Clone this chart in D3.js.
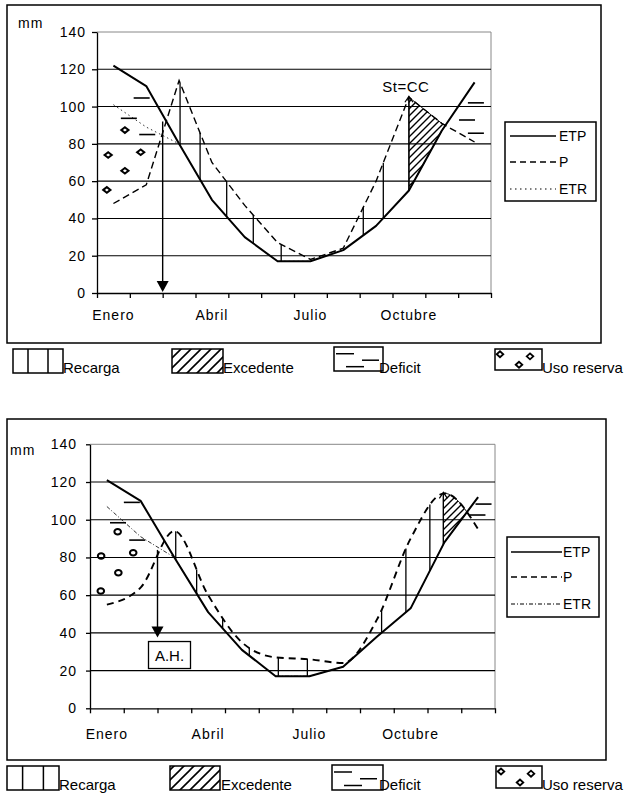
<!DOCTYPE html>
<html lang="es">
<head>
<meta charset="utf-8">
<title>Balance hidrico</title>
<script src="https://cdn.jsdelivr.net/npm/d3@7"></script>
<style>
  body { margin: 0; background: #fff; }
  svg { font-family: "Liberation Sans", Arial, sans-serif; }
  .num { font-size: 14px; letter-spacing: 1px; }
  .leg { font-size: 14px; }
  .key { font-size: 15px; }
</style>
</head>
<body>
<svg id="chart" width="624" height="794"></svg>
<script>
// etiquetas comunes
var mesLabels = ["Enero", "", "", "Abril", "", "", "Julio", "", "", "Octubre", "", ""];
var yTicks = [0, 20, 40, 60, 80, 100, 120, 140];
var serieNames = ["ETP", "P", "ETR"];
var keyNames = ["Recarga", "Excedente", "Deficit", "Uso reserva"];

// grafico de arriba (mm por mes)
var etpA = [122, 111, 80, 50, 30, 17, 17, 23, 36, 55, 87, 113];
var pA   = [48, 58, 114, 70, 47, 27, 18, 24, 60, 105, 91, 81];
var etrA = [101, 89, 80, 50, 30, 17, 17, 23, 36, 55, 87, 113];
var recargaA = [2.53, 3.14, 3.95, 4.76, 5.61, 8.11, 8.72, 9.5];   // posicion en meses
var excA = [9.5, 12];
var deficitA = [[1.36, 104.6], [0.97, 93.7], [1.53, 85], [11.54, 102], [11.27, 92.8], [11.54, 85.7]];
var reservaA = [[0.85, 87.4], [0.34, 74], [1.33, 75.5], [0.85, 65.6], [0.30, 55.3]];
var flechaA = [2, 92, 0];
var caretA = 9.5;

// grafico de abajo
var etpB = [121, 110, 80, 51, 31, 17, 17, 22, 38, 53, 88, 112];
var pB   = [55, 64, 94, 60, 35, 27, 26, 24, 47, 90, 114, 95];
var etrB = [107, 91, 80, 51, 31, 17, 17, 22, 38, 53, 88, 112];
var recargaB = [2.54, 3.16, 3.93, 4.72, 5.58, 6.44, 8.64, 9.36, 10.07, 10.47];
var excB = [10.47, 12];
var deficitB = [[1.24, 109.2], [0.83, 98.4], [1.40, 89.2], [11.66, 108.3], [11.48, 102.5]];
var reservaB = [[0.33, 80.8], [0.82, 93.6], [0.84, 71.9], [1.28, 82.5], [0.32, 62.2]];
var flechaB = [2, 84, 37];
var caretB = 10.47;

var svg = d3.select("#chart");
var defs = svg.append("defs");

function hatch(id, s, w) {
  defs.append("pattern")
      .attr("id", id)
      .attr("patternUnits", "userSpaceOnUse")
      .attr("width", s).attr("height", s)
    .append("path")
      .attr("d", "M" + (-s / 4) + "," + (s / 4) + "l" + (s / 2) + "," + (-s / 2) +
                 "M0," + s + "l" + s + "," + (-s) +
                 "M" + (3 * s / 4) + "," + (5 * s / 4) + "l" + (s / 2) + "," + (-s / 2))
      .attr("stroke", "#000")
      .attr("stroke-width", w);
}
hatch("hatchChart", 7, 1.4);
hatch("hatchKey", 10, 1.6);

// y de un path en una x dada (el path va de izquierda a derecha)
function yOnPath(node, px) {
  var lo = 0, hi = node.getTotalLength();
  for (var k = 0; k < 30; k++) {
    var mid = (lo + hi) / 2;
    if (node.getPointAtLength(mid).x < px) lo = mid; else hi = mid;
  }
  return node.getPointAtLength((lo + hi) / 2).y;
}

function diamond(cx, cy, w, h) {
  return "M" + (cx - w) + "," + cy + "L" + cx + "," + (cy - h) + "L" + (cx + w) + "," + cy + "L" + cx + "," + (cy + h) + "Z";
}

function drawChart(c) {
  var g = svg.append("g");
  var x = d3.scaleLinear().domain([0, 12]).range([c.x0, c.x1]);
  var y = d3.scaleLinear().domain([0, 140]).range([c.y0, c.y1]);

  g.append("rect")
      .attr("x", c.box[0]).attr("y", c.box[1])
      .attr("width", c.box[2] - c.box[0]).attr("height", c.box[3] - c.box[1])
      .attr("fill", "none").attr("stroke", "#000").attr("stroke-width", 1.5);

  // borde del area de trazado
  g.append("path")
      .attr("d", "M" + c.x0 + "," + y(140) + "H" + c.x1 + "V" + y(0))
      .attr("fill", "none").attr("stroke", "#888");

  g.selectAll(".grid")
      .data(yTicks.filter(function(v) { return v > 0 && v < 140; }))
    .enter().append("line")
      .attr("x1", c.x0).attr("x2", c.x1)
      .attr("y1", function(d) { return y(d); })
      .attr("y2", function(d) { return y(d); })
      .attr("stroke", "#000").attr("stroke-width", 1.1);

  var ya = g.append("g")
      .attr("transform", "translate(" + c.x0 + ",0)")
      .call(d3.axisLeft(y).tickValues(yTicks).tickSize(c.tickSize).tickSizeOuter(0).tickPadding(c.tickPad));
  ya.selectAll("path, line").attr("stroke", "#000").attr("stroke-width", 1.3);
  ya.selectAll("text").attr("class", "num").attr("fill", "#000").attr("font-family", null).attr("font-size", null);

  var xa = g.append("g")
      .attr("transform", "translate(0," + c.y0 + ")")
      .call(d3.axisBottom(x).tickValues(d3.range(13)).tickSize(5).tickSizeOuter(0).tickFormat(""));
  xa.selectAll("path, line").attr("stroke", "#000").attr("stroke-width", 1.3);

  g.selectAll(".mes")
      .data(mesLabels)
    .enter().append("text")
      .attr("class", "num")
      .attr("x", function(d, i) { return x(i + 0.5); })
      .attr("y", c.labelY)
      .attr("text-anchor", "middle")
      .text(function(d) { return d; });

  g.append("text").attr("class", "num")
      .attr("x", c.mm[0]).attr("y", c.mm[1]).text("mm");

  var back = g.append("g");

  var line = d3.line()
      .x(function(d, i) { return x(i + 0.5); })
      .y(function(d) { return y(d); });

  g.append("path")
      .attr("d", line(c.etr))
      .attr("fill", "none").attr("stroke", "#333").attr("stroke-width", 1)
      .attr("stroke-dasharray", c.etrDash);

  var p = g.append("path")
      .attr("d", line.curve(c.pCurve)(c.p))
      .attr("fill", "none").attr("stroke", "#000").attr("stroke-width", c.pWidth)
      .attr("stroke-dasharray", c.pDash);
  line.curve(d3.curveLinear);

  var etp = g.append("path")
      .attr("d", line(c.etp))
      .attr("fill", "none").attr("stroke", "#000").attr("stroke-width", 2)
      .attr("stroke-linejoin", "round");

  var pNode = p.node(), eNode = etp.node();

  // excedente: entre P y ETP
  var pts = [];
  for (var px = x(c.exc[0]); px <= x(c.exc[1]); px += 1) {
    var yp = yOnPath(pNode, px), ye = yOnPath(eNode, px);
    if (yp < ye) pts.push([px, yp, ye]);
  }
  back.append("path")
      .attr("d", d3.area().x(function(d) { return d[0]; })
                  .y0(function(d) { return d[2]; })
                  .y1(function(d) { return d[1]; })(pts))
      .attr("fill", "url(#hatchChart)")
      .attr("stroke", "#000").attr("stroke-width", 1);

  // recarga
  back.selectAll(".rec")
      .data(c.recarga)
    .enter().append("line")
      .attr("x1", function(d) { return x(d); })
      .attr("x2", function(d) { return x(d); })
      .attr("y1", function(d) { return yOnPath(pNode, x(d)); })
      .attr("y2", function(d) { return yOnPath(eNode, x(d)); })
      .attr("stroke", "#000").attr("stroke-width", 1.3);

  // deficit
  g.selectAll(".def")
      .data(c.deficit)
    .enter().append("line")
      .attr("x1", function(d) { return x(d[0]) - 8; })
      .attr("x2", function(d) { return x(d[0]) + 8; })
      .attr("y1", function(d) { return y(d[1]); })
      .attr("y2", function(d) { return y(d[1]); })
      .attr("stroke", "#000").attr("stroke-width", 1.6);

  // uso de reserva
  if (c.round) {
    g.selectAll(".res")
        .data(c.reserva)
      .enter().append("ellipse")
        .attr("cx", function(d) { return x(d[0]); })
        .attr("cy", function(d) { return y(d[1]); })
        .attr("rx", 3.3).attr("ry", 2.8)
        .attr("fill", "none").attr("stroke", "#000").attr("stroke-width", 2);
  } else {
    g.selectAll(".res")
        .data(c.reserva)
      .enter().append("path")
        .attr("d", function(d) { return diamond(x(d[0]), y(d[1]), 3.6, 2.8); })
        .attr("fill", "none").attr("stroke", "#000").attr("stroke-width", 2);
  }

  // flecha
  var fx = x(c.flecha[0]), fy0 = y(c.flecha[1]), fy1 = y(c.flecha[2]);
  g.append("line")
      .attr("x1", fx).attr("x2", fx).attr("y1", fy0).attr("y2", fy1 - 10)
      .attr("stroke", "#000").attr("stroke-width", 1.4);
  g.append("path")
      .attr("d", "M" + (fx - 6) + "," + (fy1 - 12) + "L" + (fx + 6) + "," + (fy1 - 12) + "L" + fx + "," + (fy1 - 1) + "Z")
      .attr("fill", "#000");

  // marca de St=CC
  var cx = x(c.caret), cy = yOnPath(pNode, cx);
  g.append("path")
      .attr("d", "M" + (cx - 4) + "," + (cy + 5) + "L" + cx + "," + (cy - 1) + "L" + (cx + 4) + "," + (cy + 5))
      .attr("fill", "none").attr("stroke", "#000").attr("stroke-width", 1.2);

  if (c.st) {
    g.append("text").attr("class", "key")
        .attr("x", cx - 3).attr("y", cy - 5)
        .attr("text-anchor", "middle")
        .attr("letter-spacing", 0.5)
        .text(c.st);
  }
  if (c.ah) {
    g.append("rect")
        .attr("x", fx - 9).attr("y", fy1 + 3)
        .attr("width", 42).attr("height", 27)
        .attr("fill", "#fff").attr("stroke", "#000").attr("stroke-width", 1.3);
    g.append("text").attr("class", "key")
        .attr("x", fx + 12).attr("y", fy1 + 22)
        .attr("text-anchor", "middle")
        .text(c.ah);
  }

  // leyenda
  var L = c.leg;
  g.append("rect")
      .attr("x", L[0]).attr("y", L[1])
      .attr("width", L[2] - L[0]).attr("height", L[3] - L[1])
      .attr("fill", "#fff").attr("stroke", "#000").attr("stroke-width", 1.5);
  var styles = [
    { w: 1.3, dash: null },
    { w: 1.3, dash: "6,4" },
    { w: 1.2, dash: c.etrLegDash }
  ];
  serieNames.forEach(function(name, i) {
    g.append("line")
        .attr("x1", c.legX[0]).attr("x2", c.legX[1])
        .attr("y1", c.legY[i]).attr("y2", c.legY[i])
        .attr("stroke", "#000").attr("stroke-width", styles[i].w)
        .attr("stroke-dasharray", styles[i].dash);
    g.append("text").attr("class", "leg")
        .attr("x", c.legX[2]).attr("y", c.legY[i] + 5)
        .text(name);
  });

  // claves de abajo
  var K = c.keys;
  var k = svg.append("g");
  keyNames.forEach(function(name, i) {
    var b = K[i];
    k.append("text").attr("class", "key")
        .attr("x", b[4]).attr("y", K.base)
        .text(name);
  });
  keyNames.forEach(function(name, i) {
    var b = K[i];
    var bx = b[0], by = b[1], bw = b[2] - b[0], bh = b[3] - b[1];
    k.append("rect")
        .attr("x", bx).attr("y", by).attr("width", bw).attr("height", bh)
        .attr("fill", i === 1 ? "url(#hatchKey)" : "none")
        .attr("stroke", "#000").attr("stroke-width", 1.5);
    if (i === 0) {
      [0.3, 0.7].forEach(function(f) {
        k.append("line").attr("x1", bx + bw * f).attr("x2", bx + bw * f)
            .attr("y1", by).attr("y2", by + bh)
            .attr("stroke", "#000").attr("stroke-width", 1.5);
      });
    }
    if (i === 2) {
      [[2, 20, 0.28], [28, 45, 0.55], [12, 30, 0.82]].forEach(function(s) {
        k.append("line").attr("x1", bx + s[0]).attr("x2", bx + s[1])
            .attr("y1", by + bh * s[2]).attr("y2", by + bh * s[2])
            .attr("stroke", "#000").attr("stroke-width", 1.5);
      });
    }
    if (i === 3) {
      [[5, 0.25], [35, 0.35], [24, 0.75]].forEach(function(s) {
        k.append("path").attr("d", diamond(bx + s[0], by + bh * s[1], 3.3, 3))
            .attr("fill", "none").attr("stroke", "#000").attr("stroke-width", 1.8);
      });
    }
  });
}

var keysA = [[13, 349, 63, 373, 63], [172, 349, 223, 373, 223], [334, 347, 383, 371, 379], [495, 349, 542, 370, 542]];
keysA.base = 373;
var keysB = [[7, 766, 59, 790, 59], [170, 766, 220, 790, 221], [332, 765, 383, 790, 379], [496, 766, 542, 788, 542]];
keysB.base = 790;

drawChart({
  box: [7, 5, 601, 343], x0: 97, x1: 491, y0: 293, y1: 32,
  tickSize: 5, tickPad: 6, mm: [18, 28], labelY: 320,
  etp: etpA, p: pA, etr: etrA, recarga: recargaA, exc: excA,
  deficit: deficitA, reserva: reservaA, flecha: flechaA, caret: caretA,
  st: "St=CC", ah: null, round: false,
  pCurve: d3.curveLinear, pWidth: 1.4, pDash: "7,4", etrDash: "1.5,3", etrLegDash: "1.5,3.5",
  leg: [505, 122, 596, 201], legY: [136, 162, 189], legX: [510, 556, 559],
  keys: keysA
});

drawChart({
  box: [7, 419, 606, 760], x0: 90, x1: 495, y0: 708.3, y1: 444.3,
  tickSize: 4, tickPad: 9, mm: [10, 455], labelY: 739,
  etp: etpB, p: pB, etr: etrB, recarga: recargaB, exc: excB,
  deficit: deficitB, reserva: reservaB, flecha: flechaB, caret: caretB,
  st: null, ah: "A.H.", round: true,
  pCurve: d3.curveMonotoneX, pWidth: 1.9, pDash: "7,5", etrDash: "4,2,1,2", etrLegDash: "4,2,1,2",
  leg: [507, 537, 599, 617], legY: [552, 577, 604], legX: [511, 562, 563],
  keys: keysB
});
</script>
</body>
</html>
